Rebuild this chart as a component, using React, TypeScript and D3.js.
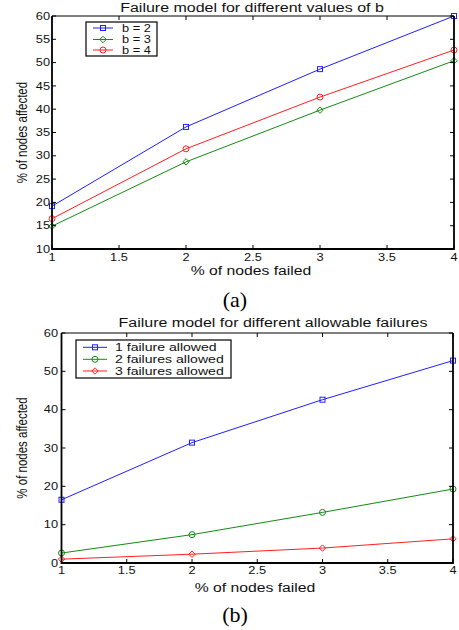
import React, { useRef, useEffect } from 'react';
import * as d3 from 'd3';

/* ─── data ─── */
const X_VALUES = [1, 2, 3, 4];
const X_TICKS = [1, 1.5, 2, 2.5, 3, 3.5, 4];

const B2 = [19.2, 36.2, 48.6, 60.0];
const B3 = [14.9, 28.7, 39.8, 50.4];
const B4 = [16.5, 31.5, 42.6, 52.7];
const Y_TICKS_A = [10, 15, 20, 25, 30, 35, 40, 45, 50, 55, 60];

const F1 = [16.5, 31.4, 42.6, 52.8];
const F2 = [2.6, 7.4, 13.2, 19.3];
const F3 = [1.0, 2.3, 3.9, 6.3];
const Y_TICKS_B = [0, 10, 20, 30, 40, 50, 60];

const LABELS_A = ['b = 2', 'b = 3', 'b = 4'];
const LABELS_B = ['1 failure allowed', '2 failures allowed', '3 failures allowed'];

/* ─── styles ─── */
const BLUE = '#1f1fff';
const GREEN = '#138a13';
const RED = '#ff1f1f';
const FONT = "'Liberation Sans', Arial, Helvetica, sans-serif";
const SX = 1.28; // the scan is stretched horizontally

type Series = { values: number[]; color: string; marker: 'square' | 'diamond' | 'circle'; label: string };

type Cfg = {
  left: number; right: number; top: number; bottom: number;
  yTicks: number[]; yDomain: [number, number];
  title: string; titleX: number; titleY: number;
  xLabelX: number; xLabelY: number;
  yLabelX: number;
  tickSize: number; xTickY: number; yTickRight: number;
  legend: { x0: number; x1: number; y0: number; y1: number; rows: number[]; lx0: number; lx1: number; tx: number; fs: number };
  caption: string; captionY: number;
  series: Series[];
};

function stext(g: any, x: number, y: number, str: string, size: number, anchor = 'start', fam = FONT) {
  return g.append('text')
    .attr('transform', `translate(${x},${y}) scale(${SX},1)`)
    .attr('text-anchor', anchor)
    .attr('font-family', fam)
    .attr('font-size', size)
    .attr('fill', '#111')
    .text(str);
}

function drawMarker(g: any, kind: string, x: number, y: number, color: string) {
  if (kind === 'square') {
    g.append('rect').attr('x', x - 2.5).attr('y', y - 2.5).attr('width', 5).attr('height', 5)
      .attr('fill', 'none').attr('stroke', color).attr('stroke-width', 1);
  } else if (kind === 'diamond') {
    g.append('path').attr('d', `M${x},${y - 3.2}L${x + 3.2},${y}L${x},${y + 3.2}L${x - 3.2},${y}Z`)
      .attr('fill', 'none').attr('stroke', color).attr('stroke-width', 1);
  } else {
    g.append('circle').attr('cx', x).attr('cy', y).attr('r', 3)
      .attr('fill', 'none').attr('stroke', color).attr('stroke-width', 1);
  }
}

function drawChart(svg: any, c: Cfg) {
  const g = svg.append('g');
  const x = d3.scaleLinear().domain([1, 4]).range([c.left, c.right]);
  const y = d3.scaleLinear().domain(c.yDomain).range([c.bottom, c.top]);

  // series
  c.series.forEach(s => {
    const line = d3.line<number>().x((_, i) => x(X_VALUES[i])).y(d => y(d));
    g.append('path').datum(s.values).attr('d', line)
      .attr('fill', 'none').attr('stroke', s.color).attr('stroke-width', 1);
    s.values.forEach((v, i) => drawMarker(g, s.marker, x(X_VALUES[i]), y(v), s.color));
  });

  // ticks (inside, all four sides)
  const t = c.tickSize;
  X_TICKS.forEach(v => {
    g.append('line').attr('x1', x(v)).attr('x2', x(v)).attr('y1', c.bottom).attr('y2', c.bottom - t).attr('stroke', '#000');
    g.append('line').attr('x1', x(v)).attr('x2', x(v)).attr('y1', c.top).attr('y2', c.top + t).attr('stroke', '#000');
    stext(g, x(v), c.xTickY, d3.format('')(v), 10, 'middle');
  });
  c.yTicks.forEach(v => {
    g.append('line').attr('x1', c.left).attr('x2', c.left + t).attr('y1', y(v)).attr('y2', y(v)).attr('stroke', '#000');
    g.append('line').attr('x1', c.right).attr('x2', c.right - t).attr('y1', y(v)).attr('y2', y(v)).attr('stroke', '#000');
    stext(g, c.yTickRight, y(v) + 3.6, String(v), 10, 'end');
  });

  // box
  g.append('line').attr('x1', c.left).attr('x2', c.right).attr('y1', c.top).attr('y2', c.top).attr('stroke', '#000').attr('stroke-width', 1);
  g.append('path').attr('d', `M${c.left},${c.top}V${c.bottom}H${c.right}V${c.top}`)
    .attr('fill', 'none').attr('stroke', '#000').attr('stroke-width', 1.8);

  // legend
  const L = c.legend;
  g.append('rect').attr('x', L.x0).attr('y', L.y0).attr('width', L.x1 - L.x0).attr('height', L.y1 - L.y0)
    .attr('fill', '#fff').attr('stroke', '#000').attr('stroke-width', 1.2);
  c.series.forEach((s, i) => {
    const ry = L.rows[i];
    g.append('line').attr('x1', L.lx0).attr('x2', L.lx1).attr('y1', ry).attr('y2', ry).attr('stroke', s.color).attr('stroke-width', 1);
    drawMarker(g, s.marker, (L.lx0 + L.lx1) / 2, ry, s.color);
    stext(g, L.tx, ry + L.fs * 0.36, s.label, L.fs);
  });

  // titles
  stext(g, c.titleX, c.titleY, c.title, 12.5, 'middle');
  stext(g, c.xLabelX, c.xLabelY, '% of nodes failed', 12.3, 'middle');
  g.append('text')
    .attr('transform', `translate(${c.yLabelX},${(c.top + c.bottom) / 2}) rotate(-90) scale(1,${SX})`)
    .attr('text-anchor', 'middle').attr('font-family', FONT).attr('font-size', 11.5).attr('fill', '#111')
    .text('% of nodes affected');

  g.append('text').attr('x', 235).attr('y', c.captionY).attr('text-anchor', 'middle')
    .attr('font-family', "'Liberation Serif', 'Times New Roman', serif").attr('font-size', 22).attr('fill', '#000')
    .text(c.caption);
}

const CFG_A: Cfg = {
  left: 52, right: 454, top: 16, bottom: 249,
  yTicks: Y_TICKS_A, yDomain: [10, 60],
  title: 'Failure model for different values of b', titleX: 252, titleY: 12,
  xLabelX: 251, xLabelY: 275, yLabelX: 27,
  tickSize: 4, xTickY: 261, yTickRight: 50,
  legend: { x0: 86, x1: 157, y0: 22, y1: 56, rows: [28, 39.5, 50], lx0: 93, lx1: 113, tx: 122, fs: 10 },
  caption: '(a)', captionY: 307,
  series: [
    { values: B2, color: BLUE, marker: 'square', label: LABELS_A[0] },
    { values: B3, color: GREEN, marker: 'diamond', label: LABELS_A[1] },
    { values: B4, color: RED, marker: 'circle', label: LABELS_A[2] },
  ],
};

const CFG_B: Cfg = {
  left: 61.5, right: 453, top: 333, bottom: 563,
  yTicks: Y_TICKS_B, yDomain: [0, 60],
  title: 'Failure model for different allowable failures', titleX: 273, titleY: 327,
  xLabelX: 255, xLabelY: 592, yLabelX: 27,
  tickSize: 4, xTickY: 574, yTickRight: 58,
  legend: { x0: 76, x1: 231, y0: 340, y1: 378, rows: [347.3, 359.3, 371], lx0: 83, lx1: 107, tx: 115, fs: 11 },
  caption: '(b)', captionY: 622,
  series: [
    { values: F1, color: BLUE, marker: 'square', label: LABELS_B[0] },
    { values: F2, color: GREEN, marker: 'circle', label: LABELS_B[1] },
    { values: F3, color: RED, marker: 'diamond', label: LABELS_B[2] },
  ],
};

export default function App() {
  const svgRef = useRef<SVGSVGElement>(null);

  useEffect(() => {
    if (!svgRef.current) return;
    const svg = d3.select(svgRef.current);
    svg.selectAll('*').remove();
    drawChart(svg, CFG_A);
    drawChart(svg, CFG_B);
  }, []);

  return (
    <svg ref={svgRef} width={459} height={630}
      style={{ position: 'absolute', left: 0, top: 0, background: '#fff', display: 'block' }} />
  );
}
